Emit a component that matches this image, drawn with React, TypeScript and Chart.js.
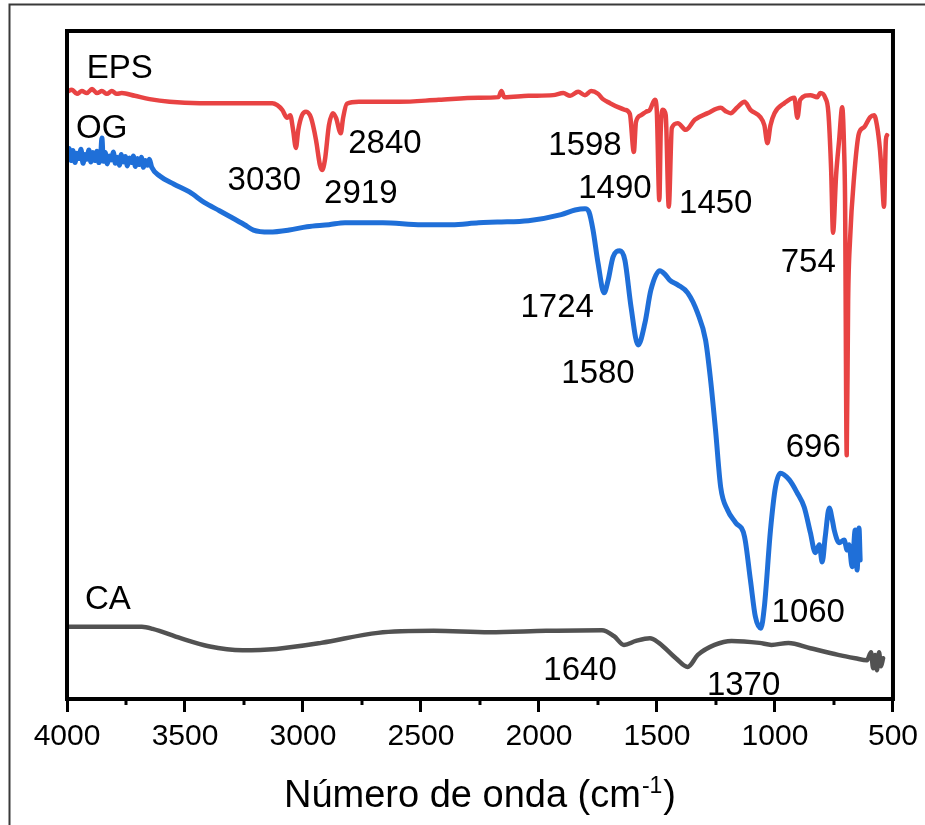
import React, { useEffect, useRef } from "react";
import { Chart, registerables } from "chart.js";

Chart.register(...registerables);

// ---------- DATA ----------
const xTitleMain = "Número de onda (cm";
const xTitleSup = "-1";
const xTitleEnd = ")";

const xMin = 500;
const xMax = 4000;
const majorStep = 500;
const minorTicks = [3750, 3250, 2750, 2250, 1750, 1250, 750];

const epsLabel = "EPS";
const epsX = [4000, 3979, 3958, 3937, 3916, 3894, 3873, 3852, 3831, 3810, 3789, 3768, 3713, 3650, 3565, 3438, 3270, 3130, 3109, 3088, 3067, 3054, 3042, 3030, 3020, 3004, 2987, 2966, 2945, 2928, 2919, 2907, 2890, 2873, 2860, 2840, 2830, 2814, 2763, 2594, 2425, 2256, 2172, 2159, 2147, 2045, 1940, 1897, 1868, 1834, 1805, 1779, 1750, 1729, 1699, 1665, 1636, 1615, 1598, 1589, 1568, 1547, 1530, 1509, 1501, 1490, 1484, 1475, 1463, 1450, 1437, 1412, 1378, 1340, 1285, 1230, 1209, 1188, 1159, 1129, 1104, 1062, 1045, 1032, 1019, 1002, 960, 918, 905, 893, 850, 821, 808, 787, 774, 762, 754, 741, 728, 715, 707, 703, 696, 690, 682, 665, 644, 622, 597, 580, 568, 555, 547, 538, 530, 525];
const epsY = [90.9, 91.2, 90.6, 91.0, 90.7, 91.3, 90.7, 91.0, 90.6, 91.0, 90.6, 90.7, 90.3, 89.8, 89.4, 89.2, 89.2, 89.2, 88.9, 88.2, 87.0, 87.4, 85.2, 82.5, 85.2, 87.4, 87.9, 87.0, 83.7, 79.9, 79.2, 80.7, 85.9, 87.7, 87.0, 84.7, 87.0, 89.1, 89.4, 89.4, 89.7, 90.0, 90.1, 91.0, 90.1, 90.3, 90.4, 90.7, 90.3, 90.9, 90.4, 91.0, 90.6, 89.8, 89.2, 88.6, 88.2, 87.6, 81.9, 86.4, 87.4, 87.9, 88.2, 89.7, 88.2, 74.7, 85.2, 88.2, 87.4, 73.7, 85.5, 86.2, 85.2, 86.7, 87.7, 88.5, 88.0, 87.7, 88.6, 89.4, 88.2, 87.1, 85.9, 83.2, 85.9, 87.7, 89.2, 90.0, 87.0, 89.7, 90.4, 90.1, 90.7, 90.0, 87.9, 79.2, 69.8, 78.4, 83.7, 88.6, 82.2, 74.7, 36.5, 59.7, 68.7, 78.1, 84.7, 85.6, 87.1, 87.4, 85.9, 82.2, 78.4, 73.7, 83.7, 84.4];

const ogLabel = "OG";
const ogX = [4000, 3991, 3983, 3975, 3966, 3958, 3949, 3941, 3932, 3924, 3916, 3907, 3899, 3890, 3882, 3873, 3865, 3857, 3852, 3846, 3838, 3829, 3821, 3812, 3804, 3795, 3787, 3778, 3770, 3761, 3753, 3744, 3736, 3727, 3719, 3710, 3702, 3693, 3685, 3676, 3668, 3659, 3651, 3641, 3607, 3548, 3481, 3417, 3354, 3308, 3248, 3210, 3143, 3058, 2983, 2890, 2822, 2662, 2497, 2370, 2256, 2176, 2045, 1906, 1847, 1805, 1788, 1771, 1750, 1724, 1707, 1686, 1657, 1636, 1610, 1580, 1551, 1526, 1488, 1467, 1446, 1412, 1370, 1328, 1294, 1273, 1252, 1230, 1201, 1167, 1129, 1104, 1083, 1060, 1045, 1019, 998, 977, 939, 905, 876, 850, 829, 812, 800, 787, 770, 757, 749, 728, 707, 694, 686, 673, 660, 652, 644, 639];
const ogY = [81.4, 82.4, 80.6, 82.1, 80.3, 81.7, 80.9, 82.3, 80.2, 81.5, 80.8, 82.2, 80.4, 81.8, 80.6, 82.0, 80.3, 81.6, 84.0, 80.5, 81.8, 80.1, 81.3, 80.7, 81.9, 80.2, 81.1, 79.9, 81.5, 80.4, 81.2, 79.8, 81.0, 80.3, 81.3, 79.7, 80.9, 80.0, 81.1, 79.6, 80.6, 79.9, 80.8, 79.6, 78.3, 77.1, 75.9, 74.3, 73.1, 72.2, 71.0, 70.2, 69.9, 70.2, 70.7, 71.0, 71.3, 71.3, 71.0, 71.0, 71.3, 71.4, 71.6, 72.5, 73.2, 73.4, 72.9, 70.2, 65.3, 60.8, 62.7, 66.2, 67.1, 65.7, 58.7, 53.0, 56.3, 61.2, 64.1, 63.6, 62.7, 62.0, 60.8, 57.8, 53.7, 47.8, 40.3, 31.7, 28.3, 26.4, 24.3, 17.8, 12.3, 10.6, 13.8, 25.3, 31.7, 33.8, 32.8, 30.8, 28.7, 24.9, 21.9, 23.1, 20.5, 24.3, 28.6, 26.8, 25.3, 23.4, 23.8, 22.3, 23.1, 19.8, 25.3, 19.3, 25.6, 20.8];

const caLabel = "CA";
const caX = [4000, 3861, 3683, 3637, 3519, 3400, 3257, 3113, 2923, 2683, 2446, 2210, 1969, 1733, 1682, 1640, 1589, 1530, 1492, 1420, 1370, 1327, 1256, 1184, 1066, 1015, 943, 850, 732, 660, 610, 593, 584, 576, 568, 559, 551, 542];
const caY = [10.8, 10.8, 10.8, 10.5, 9.1, 7.9, 7.3, 7.5, 8.4, 9.9, 10.2, 10.0, 10.2, 10.3, 9.4, 8.1, 8.7, 9.1, 8.4, 6.1, 4.8, 6.6, 8.1, 8.7, 8.4, 8.1, 8.4, 7.6, 6.6, 6.1, 5.8, 7.0, 4.6, 6.6, 4.3, 7.0, 4.9, 6.1];

// peak / series annotations (text, wavenumber, signal)
const noteText = ["EPS", "OG", "CA", "3030", "2919", "2840", "1598", "1490", "1450", "754", "696", "1724", "1580", "1060", "1640", "1370"];
const noteX = [3916, 3962, 3924, 3164, 2755, 2653, 1805, 1678, 1251, 859, 838, 1923, 1750, 859, 1826, 1133];
const noteY = [93.0, 84.0, 13.4, 76.2, 74.3, 81.7, 81.4, 75.0, 72.8, 63.9, 36.2, 57.2, 47.3, 11.5, 2.8, 0.6];
const noteAlign = ["left", "left", "left", "center", "center", "center", "center", "center", "center", "center", "center", "center", "center", "center", "center", "center"];

// ---------- STYLE ----------
const FONT = '"Liberation Sans", Arial, Helvetica, sans-serif';
const RED = "#e84343";
const BLUE = "#1f6fd8";
const GRAY = "#525252";

const toPoints = (xs: number[], ys: number[]) => xs.map((x, i) => ({ x, y: ys[i] }));

const decorPlugin = {
  id: "decor",
  beforeDraw(chart: any) {
    const { ctx, width, height } = chart;
    ctx.save();
    ctx.fillStyle = "#ffffff";
    ctx.fillRect(0, 0, width, height);
    ctx.strokeStyle = "#3a3a3a";
    ctx.lineWidth = 2;
    ctx.beginPath();
    ctx.moveTo(9.5, height);
    ctx.lineTo(9.5, 4.5);
    ctx.lineTo(width, 4.5);
    ctx.stroke();
    ctx.restore();
  },
  afterDraw(chart: any) {
    const { ctx, chartArea: a, scales } = chart;
    const xs = scales.x;
    const ys = scales.y;
    ctx.save();
    // frame
    ctx.strokeStyle = "#000";
    ctx.lineWidth = 4;
    ctx.strokeRect(a.left, a.top, a.right - a.left, a.bottom - a.top);
    // minor ticks
    ctx.lineWidth = 3;
    minorTicks.forEach((v) => {
      const px = xs.getPixelForValue(v);
      ctx.beginPath();
      ctx.moveTo(px, a.bottom);
      ctx.lineTo(px, a.bottom + 6);
      ctx.stroke();
    });
    // annotations
    ctx.fillStyle = "#000";
    ctx.font = `33px ${FONT}`;
    ctx.textBaseline = "alphabetic";
    noteText.forEach((t, i) => {
      ctx.textAlign = noteAlign[i] as CanvasTextAlign;
      ctx.fillText(t, xs.getPixelForValue(noteX[i]), ys.getPixelForValue(noteY[i]));
    });
    // axis title with superscript
    ctx.textAlign = "left";
    ctx.font = `38px ${FONT}`;
    const w1 = ctx.measureText(xTitleMain).width;
    const w3 = ctx.measureText(xTitleEnd).width;
    ctx.font = `23px ${FONT}`;
    const w2 = ctx.measureText(xTitleSup).width;
    const total = w1 + w2 + w3 + 2;
    const cx = (a.left + a.right) / 2;
    const base = a.bottom + 108;
    let sx = cx - total / 2;
    ctx.font = `38px ${FONT}`;
    ctx.fillText(xTitleMain, sx, base);
    sx += w1 + 1;
    ctx.font = `23px ${FONT}`;
    ctx.fillText(xTitleSup, sx, base - 14);
    sx += w2 + 1;
    ctx.font = `38px ${FONT}`;
    ctx.fillText(xTitleEnd, sx, base);
    ctx.restore();
  },
};

export default function App() {
  const ref = useRef<HTMLCanvasElement | null>(null);
  useEffect(() => {
    if (!ref.current) return;
    const line = (label: string, xs: number[], ys: number[], color: string, w: number) => ({
      label,
      data: toPoints(xs, ys),
      borderColor: color,
      backgroundColor: color,
      borderWidth: w,
      pointRadius: 0,
      fill: false,
      cubicInterpolationMode: "monotone" as const,
      borderJoinStyle: "round" as const,
      borderCapStyle: "round" as const,
    });
    const chart = new Chart(ref.current, {
      type: "line",
      data: {
        datasets: [
          line(caLabel, caX, caY, GRAY, 4.5),
          line(ogLabel, ogX, ogY, BLUE, 5),
          line(epsLabel, epsX, epsY, RED, 4.5),
        ],
      },
      options: {
        responsive: false,
        animation: false,
        devicePixelRatio: 1,
        layout: { padding: { left: 67, right: 29, top: 31, bottom: 0 } },
        plugins: { legend: { display: false }, tooltip: { enabled: false } },
        scales: {
          x: {
            type: "linear",
            min: xMin,
            max: xMax,
            reverse: true,
            afterFit: (s: any) => {
              s.height = 126;
            },
            border: { display: false },
            grid: {
              drawOnChartArea: false,
              drawTicks: true,
              tickLength: 13,
              tickWidth: 3,
              tickColor: "#000",
            },
            ticks: {
              stepSize: majorStep,
              autoSkip: false,
              maxRotation: 0,
              padding: 7,
              color: "#000",
              font: { family: FONT, size: 30 },
              callback: (v: any) => String(v),
            },
          },
          y: { type: "linear", display: false, min: 0, max: 100 },
        },
      },
      plugins: [decorPlugin],
    });
    return () => chart.destroy();
  }, []);
  return (
    <div style={{ position: "absolute", left: 0, top: 0, width: 925, height: 825, overflow: "hidden", background: "#fff" }}>
      <canvas ref={ref} width={925} height={825} style={{ display: "block", width: 925, height: 825 }} />
    </div>
  );
}
